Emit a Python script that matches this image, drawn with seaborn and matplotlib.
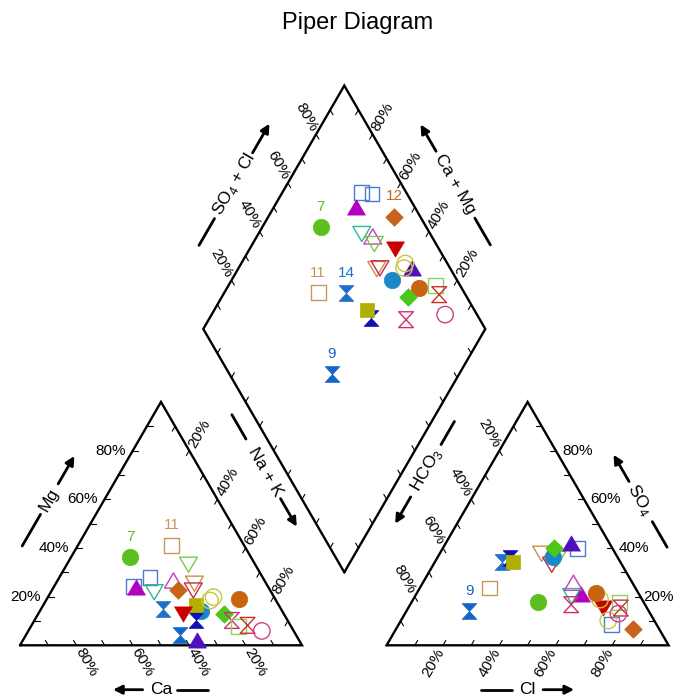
import numpy as np
import pandas as pd
import matplotlib.pyplot as plt
from matplotlib.path import Path
import seaborn as sns

# ---- data (percent of meq) ----
sample = list(range(1, 27))
ca = [47.7, 47.0, 39.9, 41.5, 32.3, 23.7, 42.8, 25.5, 41.2, 27.3, 25.7, 32.7, 28.7,
      41.7, 32.6, 29.5, 35.6, 36.4, 23.4, 21.5, 12.8, 21.2, 19.8, 18.7, 15.2, 11.3]
mg = [24.2, 23.9, 28.0, 21.8, 26.6, 33.1, 36.4, 25.3, 4.1, 22.5, 41.0, 22.8, 14.3,
      15.0, 10.2, 16.4, 13.0, 2.0, 18.4, 19.8, 19.1, 12.7, 10.2, 7.8, 8.2, 5.9]
cl = [75.6, 58.2, 47.7, 55.5, 53.4, 42.6, 44.9, 36.2, 22.4, 42.0, 24.7, 83.9, 40.8,
      23.8, 25.7, 27.5, 69.0, 44.4, 66.3, 73.5, 63.6, 39.4, 57.1, 73.8, 75.4, 75.7]
so4 = [8.5, 21.2, 39.8, 20.2, 25.7, 35.5, 17.7, 37.6, 13.9, 33.1, 23.5, 6.8, 36.2,
       34.1, 36.0, 34.4, 15.3, 42.1, 18.8, 10.2, 21.4, 39.8, 16.7, 17.5, 15.3, 13.0]
colors = ['#4a7bd0', '#b000c0', '#4a7bd0', '#30b890', '#c040c0', '#7cc850', '#5cbf1e',
          '#d08c48', '#1565c8', '#c8284c', '#c8965a', '#c8641a', '#1a88c8', '#1f6fc8',
          '#1010b8', '#b0b000', '#c80000', '#5010c0', '#c8c83c', '#c8c83c', '#c8640f',
          '#4cc81a', '#cc3070', '#8cd060', '#cc3030', '#cc4088']
markers = ['s', '^', 's', 'v', '^', 'v', 'o', 'v', 'hg', 'v', 's', 'D', 'o',
           'hg', 'hg', 's', 'v', '^', 'o', 'o', 'o', 'D', 'hg', 's', 'hg', 'o']
filled = [0, 1, 0, 0, 0, 0, 1, 0, 1, 0, 0, 1, 1,
          1, 1, 1, 1, 1, 0, 0, 1, 1, 0, 0, 0, 0]
# which panels show the sample number: cation, anion, diamond
labelled = {7: (1, 0, 1), 9: (0, 1, 1), 11: (1, 0, 1), 12: (0, 0, 1), 14: (0, 0, 1)}

sns.set_theme(style='white')
plt.rcParams['font.family'] = ['Liberation Sans', 'DejaVu Sans']
plt.rcParams['text.color'] = 'black'
plt.rcParams['mathtext.fontset'] = 'custom'
plt.rcParams['mathtext.rm'] = 'Liberation Sans'

H = np.sqrt(3) / 2
GAP = 0.3

df = pd.DataFrame(dict(num=sample, ca=ca, mg=mg, cl=cl, so4=so4,
                       color=colors, marker=markers, filled=filled))
f = df[['ca', 'mg', 'cl', 'so4']] / 100
nak = 1 - f.ca - f.mg
df['x_cat'] = nak + 0.5 * f.mg
df['y_cat'] = H * f.mg
df['x_an'] = 1 + GAP + f.cl + 0.5 * f.so4
df['y_an'] = H * f.so4
c_sum = f.ca + f.mg
a_sum = f.cl + f.so4
df['x_dia'] = 1 + GAP / 2 + 0.5 * (a_sum - c_sum)
df['y_dia'] = GAP * H + H * (a_sum + c_sum)

SHAPES = {
    'o': 'o',
    's': Path([(-1, -1), (1, -1), (1, 1), (-1, 1), (-1, -1)], closed=True),
    '^': Path([(-1, -0.85), (1, -0.85), (0, 0.85), (-1, -0.85)], closed=True),
    'v': Path([(-1, 0.85), (1, 0.85), (0, -0.85), (-1, 0.85)], closed=True),
    'D': Path([(0, 1), (1, 0), (0, -1), (-1, 0), (0, 1)], closed=True),
    'hg': Path([(-0.93, 1), (0.93, 1), (-0.93, -1), (0.93, -1), (-0.93, 1)], closed=True),
}
SIZES = {'o': 140, 's': 112, '^': 165, 'v': 165, 'D': 160, 'hg': 130}

fig = plt.figure(figsize=(6.73, 6.99), dpi=100)
ax = fig.add_axes([0, 0, 1, 1])

# vertices
A, B, C = np.array([0, 0]), np.array([1, 0]), np.array([0.5, H])
D, E, F = np.array([1 + GAP, 0]), np.array([2 + GAP, 0]), np.array([1.5 + GAP, H])
BOT = np.array([1 + GAP / 2, GAP * H])
L = BOT + np.array([-0.5, H])
R = BOT + np.array([0.5, H])
T = BOT + np.array([0, 2 * H])

for poly in ([A, B, C, A], [D, E, F, D], [BOT, R, T, L, BOT]):
    p = np.array(poly)
    ax.plot(p[:, 0], p[:, 1], color='black', lw=1.7, solid_joinstyle='miter', zorder=2)

# ticks every 10 %, pointing inside along the grid direction
tl = 0.02
tick_edges = [
    (A, B, (-0.5, H)), (A, C, (1, 0)), (C, B, (-0.5, -H)),
    (D, E, (0.5, H)), (E, F, (-1, 0)), (F, D, (0.5, -H)),
    (L, T, (0.5, -H)), (R, T, (-0.5, -H)), (BOT, L, (0.5, H)), (BOT, R, (-0.5, H)),
]
for p0, p1, d in tick_edges:
    d = np.array(d)
    for v in np.arange(0.1, 0.95, 0.1):
        p = p0 + v * (p1 - p0)
        ax.plot([p[0], p[0] + tl * d[0]], [p[1], p[1] + tl * d[1]], color='black', lw=0.8, zorder=2)

# tick labels
tfs = 11
off = 0.071
for v in (20, 40, 60, 80):
    s = f'{v}%'
    w = v / 100
    # Mg (left edge of cation triangle)
    p = A + w * (C - A)
    ax.text(p[0] - 0.025, p[1], s, ha='right', va='center', fontsize=tfs)
    # Ca (bottom)
    p = np.array([1 - w, 0]) + off * np.array([0.5, -H])
    ax.text(p[0], p[1], s, ha='center', va='center', rotation=-60, rotation_mode='anchor', fontsize=tfs)
    # Na + K (right edge)
    p = C + w * (B - C) + off * np.array([0.5, H])
    ax.text(p[0], p[1], s, ha='center', va='center', rotation=60, rotation_mode='anchor', fontsize=tfs)
    # Cl (bottom of anion triangle)
    p = np.array([1 + GAP + w, 0]) + off * np.array([-0.5, -H])
    ax.text(p[0], p[1], s, ha='center', va='center', rotation=60, rotation_mode='anchor', fontsize=tfs)
    # SO4 (right edge); the lowest label sits against the figure edge
    p = E + w * (F - E)
    ax.text(p[0] + (0.01 if v == 20 else 0.022), p[1], s, ha='left', va='center', fontsize=tfs)
    # HCO3 (left edge)
    p = F + w * (D - F) + off * np.array([-0.5, H])
    ax.text(p[0], p[1], s, ha='center', va='center', rotation=-60, rotation_mode='anchor', fontsize=tfs)
    # SO4 + Cl (diamond upper left)
    p = L + w * (T - L) + off * np.array([-0.5, H])
    ax.text(p[0], p[1], s, ha='center', va='center', rotation=-60, rotation_mode='anchor', fontsize=tfs)
    # Ca + Mg (diamond upper right)
    p = R + w * (T - R) + off * np.array([0.5, H])
    ax.text(p[0], p[1], s, ha='center', va='center', rotation=60, rotation_mode='anchor', fontsize=tfs)

# axis titles with dash and arrow
titles = [
    ('Ca', A, B, (0, -1), 0.158, 0.5, 0, (0.435, 0.33), (0.555, 0.665)),
    ('Cl', D, E, (0, -1), 0.158, 0.5, 0, (0.555, 0.665), (0.335, 0.445)),
    ('Mg', A, C, (-H, 0.5), 0.17, 0.5, 60, (0.565, 0.68), (0.31, 0.44)),
    ('SO$_\\mathregular{4}$', E, F, (H, 0.5), 0.17, 0.5, -60, (0.575, 0.685), (0.305, 0.41)),
    ('Na + K', C, B, (H, 0.5), 0.195, 0.40, -60, (0.51, 0.625), (0.165, 0.265)),
    ('HCO$_\\mathregular{3}$', F, D, (-H, 0.5), 0.19, 0.39, 60, (0.50, 0.61), (0.19, 0.285)),
    ('SO$_\\mathregular{4}$ + Cl', L, T, (-H, 0.5), 0.162, 0.5, 60, (0.63, 0.75), (0.25, 0.36)),
    ('Ca + Mg', R, T, (H, 0.5), 0.165, 0.5, -60, (0.635, 0.745), (0.25, 0.36)),
]
for txt, p0, p1, nrm, dist, tt, rot, arr, dash in titles:
    nrm = np.array(nrm)
    pos = lambda t: p0 + t * (p1 - p0) + dist * nrm
    p = pos(tt)
    ax.text(p[0], p[1], txt, ha='center', va='center', rotation=rot,
            rotation_mode='anchor', fontsize=12.5)
    tail, head = pos(arr[0]), pos(arr[1])
    ax.annotate('', xy=head, xytext=tail,
                arrowprops=dict(arrowstyle='-|>', color='black', lw=2,
                                mutation_scale=13, shrinkA=0, shrinkB=0))
    d0, d1 = pos(dash[0]), pos(dash[1])
    ax.plot([d0[0], d1[0]], [d0[1], d1[1]], color='black', lw=2)

# samples
for _, r in df.iterrows():
    pts = pd.DataFrame({'x': [r['x_cat'], r['x_an'], r['x_dia']],
                        'y': [r['y_cat'], r['y_an'], r['y_dia']]})
    mk = r['marker']
    kw = dict(marker=SHAPES[mk], s=SIZES[mk], color=r['color'], edgecolor=r['color'])
    if r['filled']:
        kw['linewidth'] = 0.5
    else:
        kw['facecolor'] = 'none'
        kw['linewidth'] = 1.0
    sns.scatterplot(data=pts, x='x', y='y', ax=ax, zorder=3, legend=False, **kw)
    num = int(r['num'])
    if num in labelled:
        for show, x, y in zip(labelled[num], pts.x, pts.y):
            if show:
                ax.annotate(str(num), (x, y), xytext=(0, 14.5), textcoords='offset points',
                            ha='center', va='center', color=r['color'], fontsize=11, zorder=4)

fig.text(358 / 673, 1 - 23 / 699, 'Piper Diagram', ha='center', va='center', fontsize=17)

ax.set_xlim(-20 / 282, 653 / 282)
ax.set_ylim((645.3 - 699) / 281, 645.3 / 281)
ax.axis('off')

fig.savefig('out.png', dpi=100, facecolor='white')
